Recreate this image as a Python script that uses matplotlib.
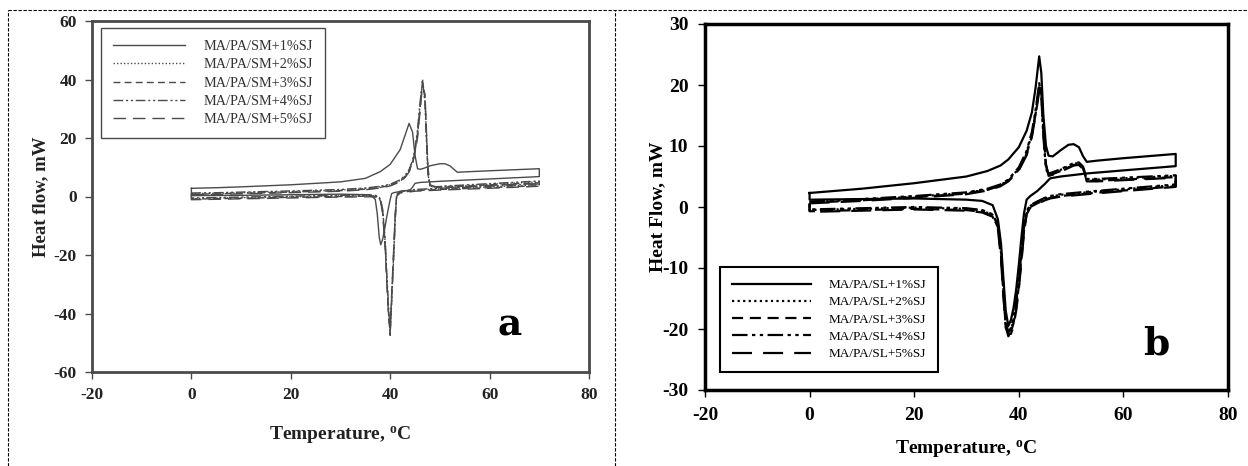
import numpy as np
import matplotlib.pyplot as plt
from matplotlib.lines import Line2D

plt.rcParams['font.family'] = 'Liberation Serif'
plt.rcParams['axes.unicode_minus'] = False
plt.rcParams['mathtext.fontset'] = 'custom'
plt.rcParams['mathtext.rm'] = 'Liberation Serif'
plt.rcParams['mathtext.bf'] = 'Liberation Serif:bold'

# ---------------- panel a data (MA/PA/SM) ----------------
labels_a = ["MA/PA/SM+1%SJ", "MA/PA/SM+2%SJ", "MA/PA/SM+3%SJ",
            "MA/PA/SM+4%SJ", "MA/PA/SM+5%SJ"]
temp_a_heat = [0, 5, 10, 20, 30, 35, 38, 40, 42, 43, 43.8, 44.5, 45, 45.5, 46,
               46.5, 47, 47.3, 47.6, 48, 50, 51, 52, 53.5, 60, 70]
temp_a_cool = [70, 60, 50, 46, 45, 44.5, 44, 42, 41.3, 41, 40.7, 40.3, 40, 39.7,
               39.3, 39, 38.5, 38.1, 37.8, 37.4, 37, 36, 30, 20, 10, 0]
heat_a_1 = [2.8, 3.0, 3.3, 4.0, 5.0, 6.2, 8.5, 11, 16, 21, 25, 22, 14, 9.5, 9.3,
            9.5, 9.8, 10.0, 10.2, 10.5, 11.2, 11.2, 10.5, 8.3, 8.8, 9.5]
cool_a_1 = [6.8, 6.0, 5.2, 4.8, 4.5, 3.2, 2.2, 1.7, 1.5, 1.4, 1.3, 1.0, -1, -3.5,
            -7, -10, -14.5, -16.5, -14, -6, -1, 0.6, 0.8, 0.6, 0.4, 0.3]
heat_a_2 = [1.0, 1.1, 1.3, 1.7, 2.2, 2.7, 3.3, 4.0, 5.5, 7, 9, 12, 16, 22, 31,
            40, 33, 20, 8, 3.5, 3.2, 3.4, 3.5, 3.6, 4.2, 5.0]
cool_a_2 = [4.0, 3.3, 2.6, 2.3, 2.2, 2.1, 2.0, 1.6, 0.5, -8, -20, -35, -46.5, -40,
            -27, -16, -5, -1.5, -0.5, 0, 0.2, 0.3, 0.2, -0.1, -0.4, -0.7]
heat_a_3 = [0.8, 0.9, 1.1, 1.5, 2.0, 2.5, 3.1, 3.8, 5.2, 6.7, 8.6, 11.5, 15.5, 21,
            30, 39, 34, 21, 9, 3.8, 3.0, 3.2, 3.3, 3.4, 4.0, 4.7]
cool_a_3 = [3.7, 3.0, 2.4, 2.1, 2.0, 1.9, 1.8, 1.4, 0.3, -7, -19, -34, -47.5, -41,
            -28, -17, -5.5, -1.8, -0.7, -0.2, 0.0, 0.1, 0.0, -0.3, -0.6, -0.9]
heat_a_4 = [1.2, 1.3, 1.5, 1.9, 2.4, 2.9, 3.5, 4.2, 5.7, 7.2, 9.2, 12.3, 16.5, 23,
            32, 39.5, 32, 19, 7.5, 3.3, 3.4, 3.6, 3.7, 3.8, 4.4, 5.3]
cool_a_4 = [4.3, 3.5, 2.8, 2.5, 2.4, 2.3, 2.2, 1.8, 0.7, -9, -21, -36, -46, -39,
            -26, -15, -4.5, -1.3, -0.3, 0.2, 0.4, 0.5, 0.4, 0.1, -0.2, -0.5]
heat_a_5 = [0.6, 0.7, 0.9, 1.3, 1.8, 2.3, 2.9, 3.6, 5.0, 6.5, 8.4, 11.2, 15, 20,
            29, 38, 35, 22, 10, 4.0, 2.8, 3.0, 3.1, 3.2, 3.8, 4.4]
cool_a_5 = [3.5, 2.8, 2.2, 1.9, 1.8, 1.7, 1.6, 1.2, 0.1, -6, -18, -33, -45, -42,
            -29, -18, -6, -2, -0.9, -0.4, -0.2, -0.1, -0.2, -0.5, -0.8, -1.1]
heat_a = [heat_a_1, heat_a_2, heat_a_3, heat_a_4, heat_a_5]
cool_a = [cool_a_1, cool_a_2, cool_a_3, cool_a_4, cool_a_5]

# ---------------- panel b data (MA/PA/SL) ----------------
labels_b = ["MA/PA/SL+1%SJ", "MA/PA/SL+2%SJ", "MA/PA/SL+3%SJ",
            "MA/PA/SL+4%SJ", "MA/PA/SL+5%SJ"]
temp_b_heat = [0, 10, 20, 30, 34, 36.5, 38, 40, 41.5, 42.5, 43.2, 43.9, 44.3,
               44.7, 45.2, 45.7, 46.5, 48, 49.5, 50.5, 51.5, 52.3, 53, 55, 60, 70]
temp_b_cool = [70, 60, 53, 48, 46, 45, 43.5, 42.2, 41.5, 41, 40.5, 40, 39.5, 39,
               38.5, 38, 37.5, 37, 36.6, 36, 35, 33, 30, 20, 10, 0]
heat_b_1 = [2.3, 3.0, 3.9, 5.0, 5.9, 6.8, 7.8, 9.8, 12.5, 15.5, 19.5, 24.7, 22,
            15, 10, 8.4, 8.3, 9.3, 10.2, 10.3, 9.8, 8.3, 7.4, 7.6, 8.0, 8.7]
cool_b_1 = [6.7, 6.0, 5.5, 5.0, 4.7, 3.8, 2.6, 1.8, 1.2, -1, -5, -9.5, -13.5,
            -16.5, -18.5, -19.5, -17, -11, -6, -2, 0.3, 1.0, 1.2, 1.4, 1.3, 1.2]
heat_b_2 = [0.8, 1.2, 1.7, 2.3, 2.9, 3.6, 4.4, 6.3, 9, 12, 15.5, 20, 18.5, 12,
            6.5, 5.4, 5.6, 6.1, 6.7, 7.1, 7.2, 6.5, 4.5, 4.5, 4.7, 5.1]
cool_b_2 = [3.6, 2.9, 2.4, 2.0, 1.7, 1.4, 0.8, 0.2, -0.8, -3.5, -8, -12.5, -16,
            -18.5, -20.2, -21, -19, -13, -7.5, -3, -1.3, -0.6, -0.3, -0.1, -0.3, -0.5]
heat_b_3 = [0.7, 1.1, 1.6, 2.2, 2.8, 3.5, 4.3, 6.1, 8.7, 11.7, 15.2, 19.5, 18.8,
            12.5, 6.8, 5.2, 5.4, 5.9, 6.5, 6.9, 7.0, 6.3, 4.3, 4.3, 4.5, 4.9]
cool_b_3 = [3.4, 2.7, 2.2, 1.8, 1.5, 1.2, 0.6, 0.0, -1.0, -3.8, -8.5, -13, -16.5,
            -19, -20.5, -21.2, -19.5, -13.5, -8, -3.3, -1.5, -0.8, -0.5, -0.3, -0.5, -0.7]
heat_b_4 = [0.9, 1.3, 1.8, 2.4, 3.0, 3.7, 4.5, 6.5, 9.2, 12.3, 15.8, 20.3, 18.2,
            11.5, 6.2, 5.5, 5.7, 6.2, 6.8, 7.2, 7.3, 6.6, 4.6, 4.6, 4.8, 5.2]
cool_b_4 = [3.7, 3.0, 2.5, 2.1, 1.8, 1.5, 0.9, 0.3, -0.6, -3.2, -7.5, -12, -15.5,
            -18, -19.8, -20.6, -18.6, -12.5, -7, -2.8, -1.2, -0.5, -0.2, 0.0, -0.2, -0.4]
heat_b_5 = [0.6, 1.0, 1.5, 2.1, 2.7, 3.4, 4.2, 6.0, 8.5, 11.5, 15, 19, 19.2, 13,
            7.0, 5.1, 5.3, 5.8, 6.4, 6.8, 6.9, 6.2, 4.2, 4.2, 4.4, 4.8]
cool_b_5 = [3.3, 2.6, 2.1, 1.7, 1.4, 1.1, 0.5, -0.1, -1.2, -4.2, -9, -13.5, -17,
            -19.5, -20.8, -20.8, -19.8, -14, -8.5, -3.6, -1.6, -0.9, -0.6, -0.4, -0.6, -0.8]
heat_b = [heat_b_1, heat_b_2, heat_b_3, heat_b_4, heat_b_5]
cool_b = [cool_b_1, cool_b_2, cool_b_3, cool_b_4, cool_b_5]

line_styles = ['-', (0, (1, 1.5)), (0, (5, 3)), (0, (7, 2, 1.5, 2, 1.5, 2)), (0, (9, 5))]


def draw_panel(ax, t_heat, t_cool, heats, cools, labels, color, lw, spine_w):
    for heat, cool, lab, ls in zip(heats, cools, labels, line_styles):
        # heating run, cooling run, then close the loop at 0 degC
        t = list(t_heat) + list(t_cool) + [t_heat[0]]
        v = list(heat) + list(cool) + [heat[0]]
        ax.plot(t, v, color=color, lw=lw, linestyle=ls, label=lab)
    for s in ax.spines.values():
        s.set_linewidth(spine_w)
        s.set_color(color)
    ax.tick_params(direction='out', length=5, width=1, colors=color,
                   top=False, right=False)


fig = plt.figure(figsize=(12.48, 4.66), dpi=100)
W, H = 1248, 466

# panel a
ax_a = fig.add_axes([92 / W, 1 - 372 / H, (589 - 92) / W, (372 - 21) / H])
draw_panel(ax_a, temp_a_heat, temp_a_cool, heat_a, cool_a, labels_a, '#4a4a4a', 1.0, 2.0)
ax_a.set_xlim(-20, 80)
ax_a.set_ylim(-60, 60)
ax_a.set_xticks(np.arange(-20, 81, 20))
ax_a.set_yticks(np.arange(-60, 61, 20))
ax_a.tick_params(labelsize=12.5, pad=6, labelcolor='#222222')
for lbl in ax_a.get_xticklabels() + ax_a.get_yticklabels():
    lbl.set_fontweight('bold')
ax_a.set_xlabel(r"Temperature, $\mathbf{^o}$C", fontsize=14, fontweight='bold', color='#222222')
ax_a.set_ylabel("Heat flow, mW", fontsize=13.5, fontweight='bold', color='#222222')
ax_a.xaxis.set_label_coords(0.5, -0.148)
ax_a.yaxis.set_label_coords(-0.087, 0.5)
leg_a = ax_a.legend(loc='upper left', bbox_to_anchor=(0.018, 0.98), borderaxespad=0,
                    fontsize=10.3, handlelength=5.0, handletextpad=1.3, labelspacing=0.36,
                    borderpad=0.85, fancybox=False, framealpha=1, edgecolor='#4a4a4a')
leg_a.get_frame().set_linewidth(1.0)
for txt in leg_a.get_texts():
    txt.set_color('#333333')
ax_a.text(0.84, 0.135, "a", transform=ax_a.transAxes, fontsize=27, fontweight='bold',
          ha='center', va='center', family='DejaVu Serif')

# panel b
ax_b = fig.add_axes([705 / W, 1 - 390 / H, 523 / W, 366 / H])
draw_panel(ax_b, temp_b_heat, temp_b_cool, heat_b, cool_b, labels_b, 'black', 1.6, 2.5)
ax_b.set_xlim(-20, 80)
ax_b.set_ylim(-30, 30)
ax_b.set_xticks(np.arange(-20, 81, 20))
ax_b.set_yticks(np.arange(-30, 31, 10))
ax_b.tick_params(labelsize=14, pad=7)
for lbl in ax_b.get_xticklabels() + ax_b.get_yticklabels():
    lbl.set_fontweight('bold')
ax_b.set_xlabel(r"Temperature, $\mathbf{^o}$C", fontsize=14, fontweight='bold')
ax_b.set_ylabel("Heat Flow, mW", fontsize=14, fontweight='bold')
ax_b.xaxis.set_label_coords(0.5, -0.131)
ax_b.yaxis.set_label_coords(-0.075, 0.5)
leg_b = ax_b.legend(loc='upper left', bbox_to_anchor=(0.029, 0.336), borderaxespad=0,
                    fontsize=9.5, handlelength=6.0, handletextpad=1.3, labelspacing=0.38,
                    borderpad=0.9, fancybox=False, framealpha=1, edgecolor='black')
leg_b.get_frame().set_linewidth(1.5)
ax_b.text(0.862, 0.126, "b", transform=ax_b.transAxes, fontsize=27, fontweight='bold',
          ha='center', va='center', family='DejaVu Serif')

# dashed panel borders
border = dict(color='black', lw=0.8, linestyle=(0, (3, 1.5)), transform=fig.transFigure)
fig.add_artist(Line2D([8 / W, 1], [1 - 10 / H, 1 - 10 / H], **border))
fig.add_artist(Line2D([8 / W, 8 / W], [0, 1 - 10 / H], **border))
fig.add_artist(Line2D([615 / W, 615 / W], [0, 1 - 10 / H], **border))

fig.savefig("out.png", dpi=100)
